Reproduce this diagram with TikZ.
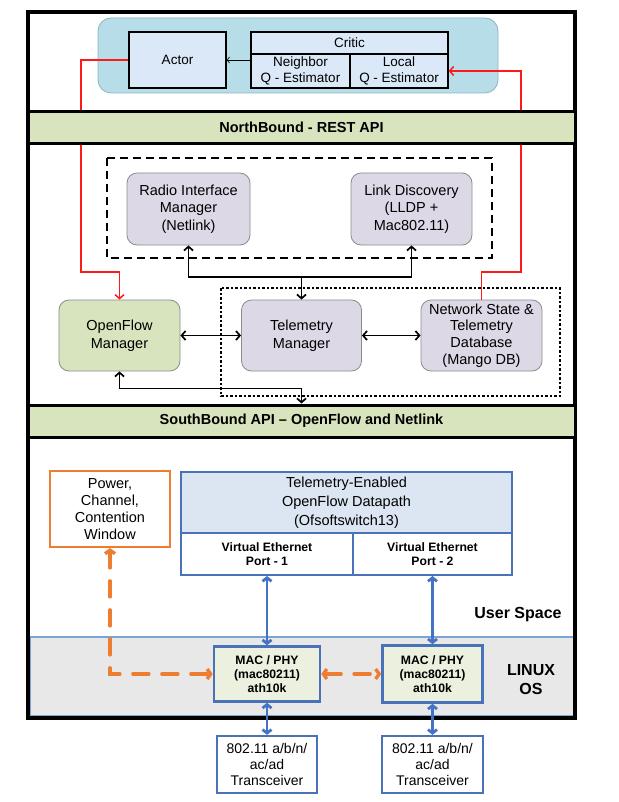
\documentclass[tikz,border=0pt]{standalone}
\usepackage{fontspec}
\setmainfont{Liberation Sans}
\usetikzlibrary{arrows.meta}
\definecolor{tealbg}{HTML}{B7DDE8}
\definecolor{tealbd}{HTML}{8DB3BF}
\definecolor{lblue}{HTML}{DBE8F8}
\definecolor{bandgreen}{HTML}{D7E4BD}
\definecolor{lav}{HTML}{DCD8E6}
\definecolor{boxgray}{HTML}{8C8C8C}
\definecolor{dpblue}{HTML}{4A72B8}
\definecolor{dphead}{HTML}{DCE6F2}
\definecolor{macfill}{HTML}{EBF1DE}
\definecolor{arrblue}{HTML}{4472C4}
\definecolor{orng}{HTML}{ED7D31}
\definecolor{osgray}{HTML}{E8E8E8}
\definecolor{osline}{HTML}{7BA3D3}
\definecolor{redl}{HTML}{FF1A1A}
\begin{document}
\begin{tikzpicture}[x=1pt,y=-1pt,
  acbox/.style={draw=black,line width=1.3pt,fill=lblue,inner sep=0pt,align=center,
    font=\fontsize{13.5}{16.5}\selectfont},
  midbox/.style={draw=boxgray,line width=0.8pt,rounded corners=10pt,inner sep=0pt,align=center,
    font=\fontsize{14.5}{17.5}\selectfont},
  band/.style={draw=black,line width=3pt,fill=bandgreen,minimum width=547pt,minimum height=32pt,
    inner sep=0pt,font=\bfseries\fontsize{14.5}{17}\selectfont},
  dpbox/.style={draw=dpblue,line width=2pt,inner sep=0pt,align=center},
  macbox/.style={draw=dpblue,line width=2.6pt,fill=macfill,inner sep=0pt,align=center,
    font=\bfseries\fontsize{12.2}{14.3}\selectfont},
  trbox/.style={draw=dpblue,line width=2.3pt,fill=white,inner sep=0pt,align=center,
    font=\fontsize{14}{16}\selectfont},
  tip/.tip={Straight Barb[length=4pt,width=9pt]},
  btip/.tip={Straight Barb[length=3.5pt,width=9pt]},
  otip/.tip={Straight Barb[length=3.5pt,width=10pt]},
  conn/.style={line width=1.7pt,tip-tip},
  redc/.style={draw=redl,line width=1.5pt},
  bluec/.style={draw=arrblue,line width=2.8pt,btip-btip},
  orc/.style={draw=orng,line width=3.4pt,line cap=round,dash pattern=on 16pt off 13pt,otip-otip}
]
\useasboundingbox (0,0) rectangle (618,802);
% Linux OS region
\draw[fill=osgray,draw=osline,line width=2.5pt] (30,637) rectangle (574,716);
% outer frame
\draw[line width=3.2pt] (28,12) rectangle (575,718);

% top section
\draw[draw=tealbd,fill=tealbg,line width=0.8pt,rounded corners=13pt] (98,18) rectangle (498,93);
\node[acbox,minimum width=97pt,minimum height=56pt] (actor) at (177.5,60) {Actor};
\node[acbox,minimum width=197pt,minimum height=22pt] (critic) at (349.5,43) {Critic};
\node[acbox,minimum width=99pt,minimum height=34pt] (neigh) at (300.5,71) {Neighbor\\Q - Estimator};
\node[acbox,minimum width=98pt,minimum height=34pt] (local) at (399,71) {Local\\Q - Estimator};
\draw[line width=0.6pt,-{Straight Barb[length=2.5pt,width=6pt]}] (actor.east -| neigh.west) -- (actor.east);

% middle section
\draw[line width=1.6pt,dash pattern=on 8pt off 5pt] (107,158) rectangle (492,258);
\draw[line width=1.2pt,dash pattern=on 2.5pt off 2pt] (221,288) rectangle (560,396);
\node[midbox,fill=lav,minimum width=123pt,minimum height=72pt] (rim) at (188.5,209) {Radio Interface\\Manager\\(Netlink)};
\node[midbox,fill=lav,minimum width=121pt,minimum height=72pt] (ld) at (411.5,209) {Link Discovery\\(LLDP +\\Mac802.11)};
\node[midbox,fill=bandgreen,minimum width=121pt,minimum height=71pt] (ofm) at (119.5,335.5) {OpenFlow\\Manager};
\node[midbox,fill=lav,minimum width=120pt,minimum height=71pt] (tm) at (301.5,335.5) {Telemetry\\Manager};
\node[midbox,fill=lav,minimum width=121pt,minimum height=71pt,font=\fontsize{14.5}{16.8}\selectfont] (nsd) at (481.5,335.5) {Network State \&\\Telemetry\\Database\\(Mango DB)};

% red feedback lines (under the API band)
\draw[redc,-tip] (actor.west) -| (81,272) -| (ofm.north);
\draw[redc,-tip] (nsd.north) |- (521,272) |- (local.east);

% API bands
\node[band] (nb) at (301.5,127.5) {NorthBound - REST API};
\node[band] (sb) at (301.5,421) {SouthBound API – OpenFlow and Netlink};

\coordinate (bus) at (0,277);
\draw[conn] (rim.south) -- (rim.south |- bus) -- (ld.south |- bus) -- (ld.south);
\draw[line width=1.7pt,-tip] (tm.north |- bus) -- (tm.north);
\draw[conn] (ofm.east) -- (tm.west);
\draw[conn] (tm.east) -- (nsd.west);
\draw[conn] (ofm.south) -- ++(0,17) -| (sb.north);

% bottom section
\node[draw=orng,line width=2.2pt,fill=white,inner sep=0pt,align=center,minimum width=120pt,minimum height=76pt,
  font=\fontsize{14.5}{17.2}\selectfont] (pw) at (110,509) {Power,\\Channel,\\Contention\\Window};
\node[dpbox,fill=dphead,minimum width=331pt,minimum height=61pt,font=\fontsize{14.5}{19}\selectfont] (dp) at (346.5,502.5)
  {Telemetry-Enabled\\OpenFlow Datapath\\(Ofsoftswitch13)};
\node[dpbox,fill=white,minimum width=172pt,minimum height=42pt,font=\bfseries\fontsize{12.2}{14}\selectfont] (p1) at (267,554)
  {Virtual Ethernet\\Port - 1};
\node[dpbox,fill=white,minimum width=159pt,minimum height=42pt,font=\bfseries\fontsize{12.2}{14}\selectfont] (p2) at (432.5,554)
  {Virtual Ethernet\\Port - 2};
\node[font=\bfseries\fontsize{16}{19}\selectfont] (us) at (518,615) {User Space};
\node[font=\bfseries\fontsize{16}{19}\selectfont,align=center] (os) at (531,680) {LINUX\\OS};
\node[macbox,minimum width=106pt,minimum height=55pt] (mac1) at (267,674) {MAC / PHY\\(mac80211)\\ath10k};
\node[macbox,minimum width=100pt,minimum height=57pt] (mac2) at (432.5,674) {MAC / PHY\\(mac80211)\\ath10k};
\node[trbox,minimum width=100pt,minimum height=57pt] (t1) at (267,764.5) {802.11 a/b/n/\\ac/ad\\Transceiver};
\node[trbox,minimum width=101pt,minimum height=57pt] (t2) at (432.5,764.5) {802.11 a/b/n/\\ac/ad\\Transceiver};
\draw[bluec] (p1.south) -- (mac1.north);
\draw[bluec] (p2.south) -- (mac2.north);
\draw[bluec] (mac1.south) -- (t1.north);
\draw[bluec] (mac2.south) -- (t2.north);
\draw[orc] (pw.south) |- (mac1.west);
\draw[orc] (mac1.east) -- (mac2.west);
\end{tikzpicture}
\end{document}
